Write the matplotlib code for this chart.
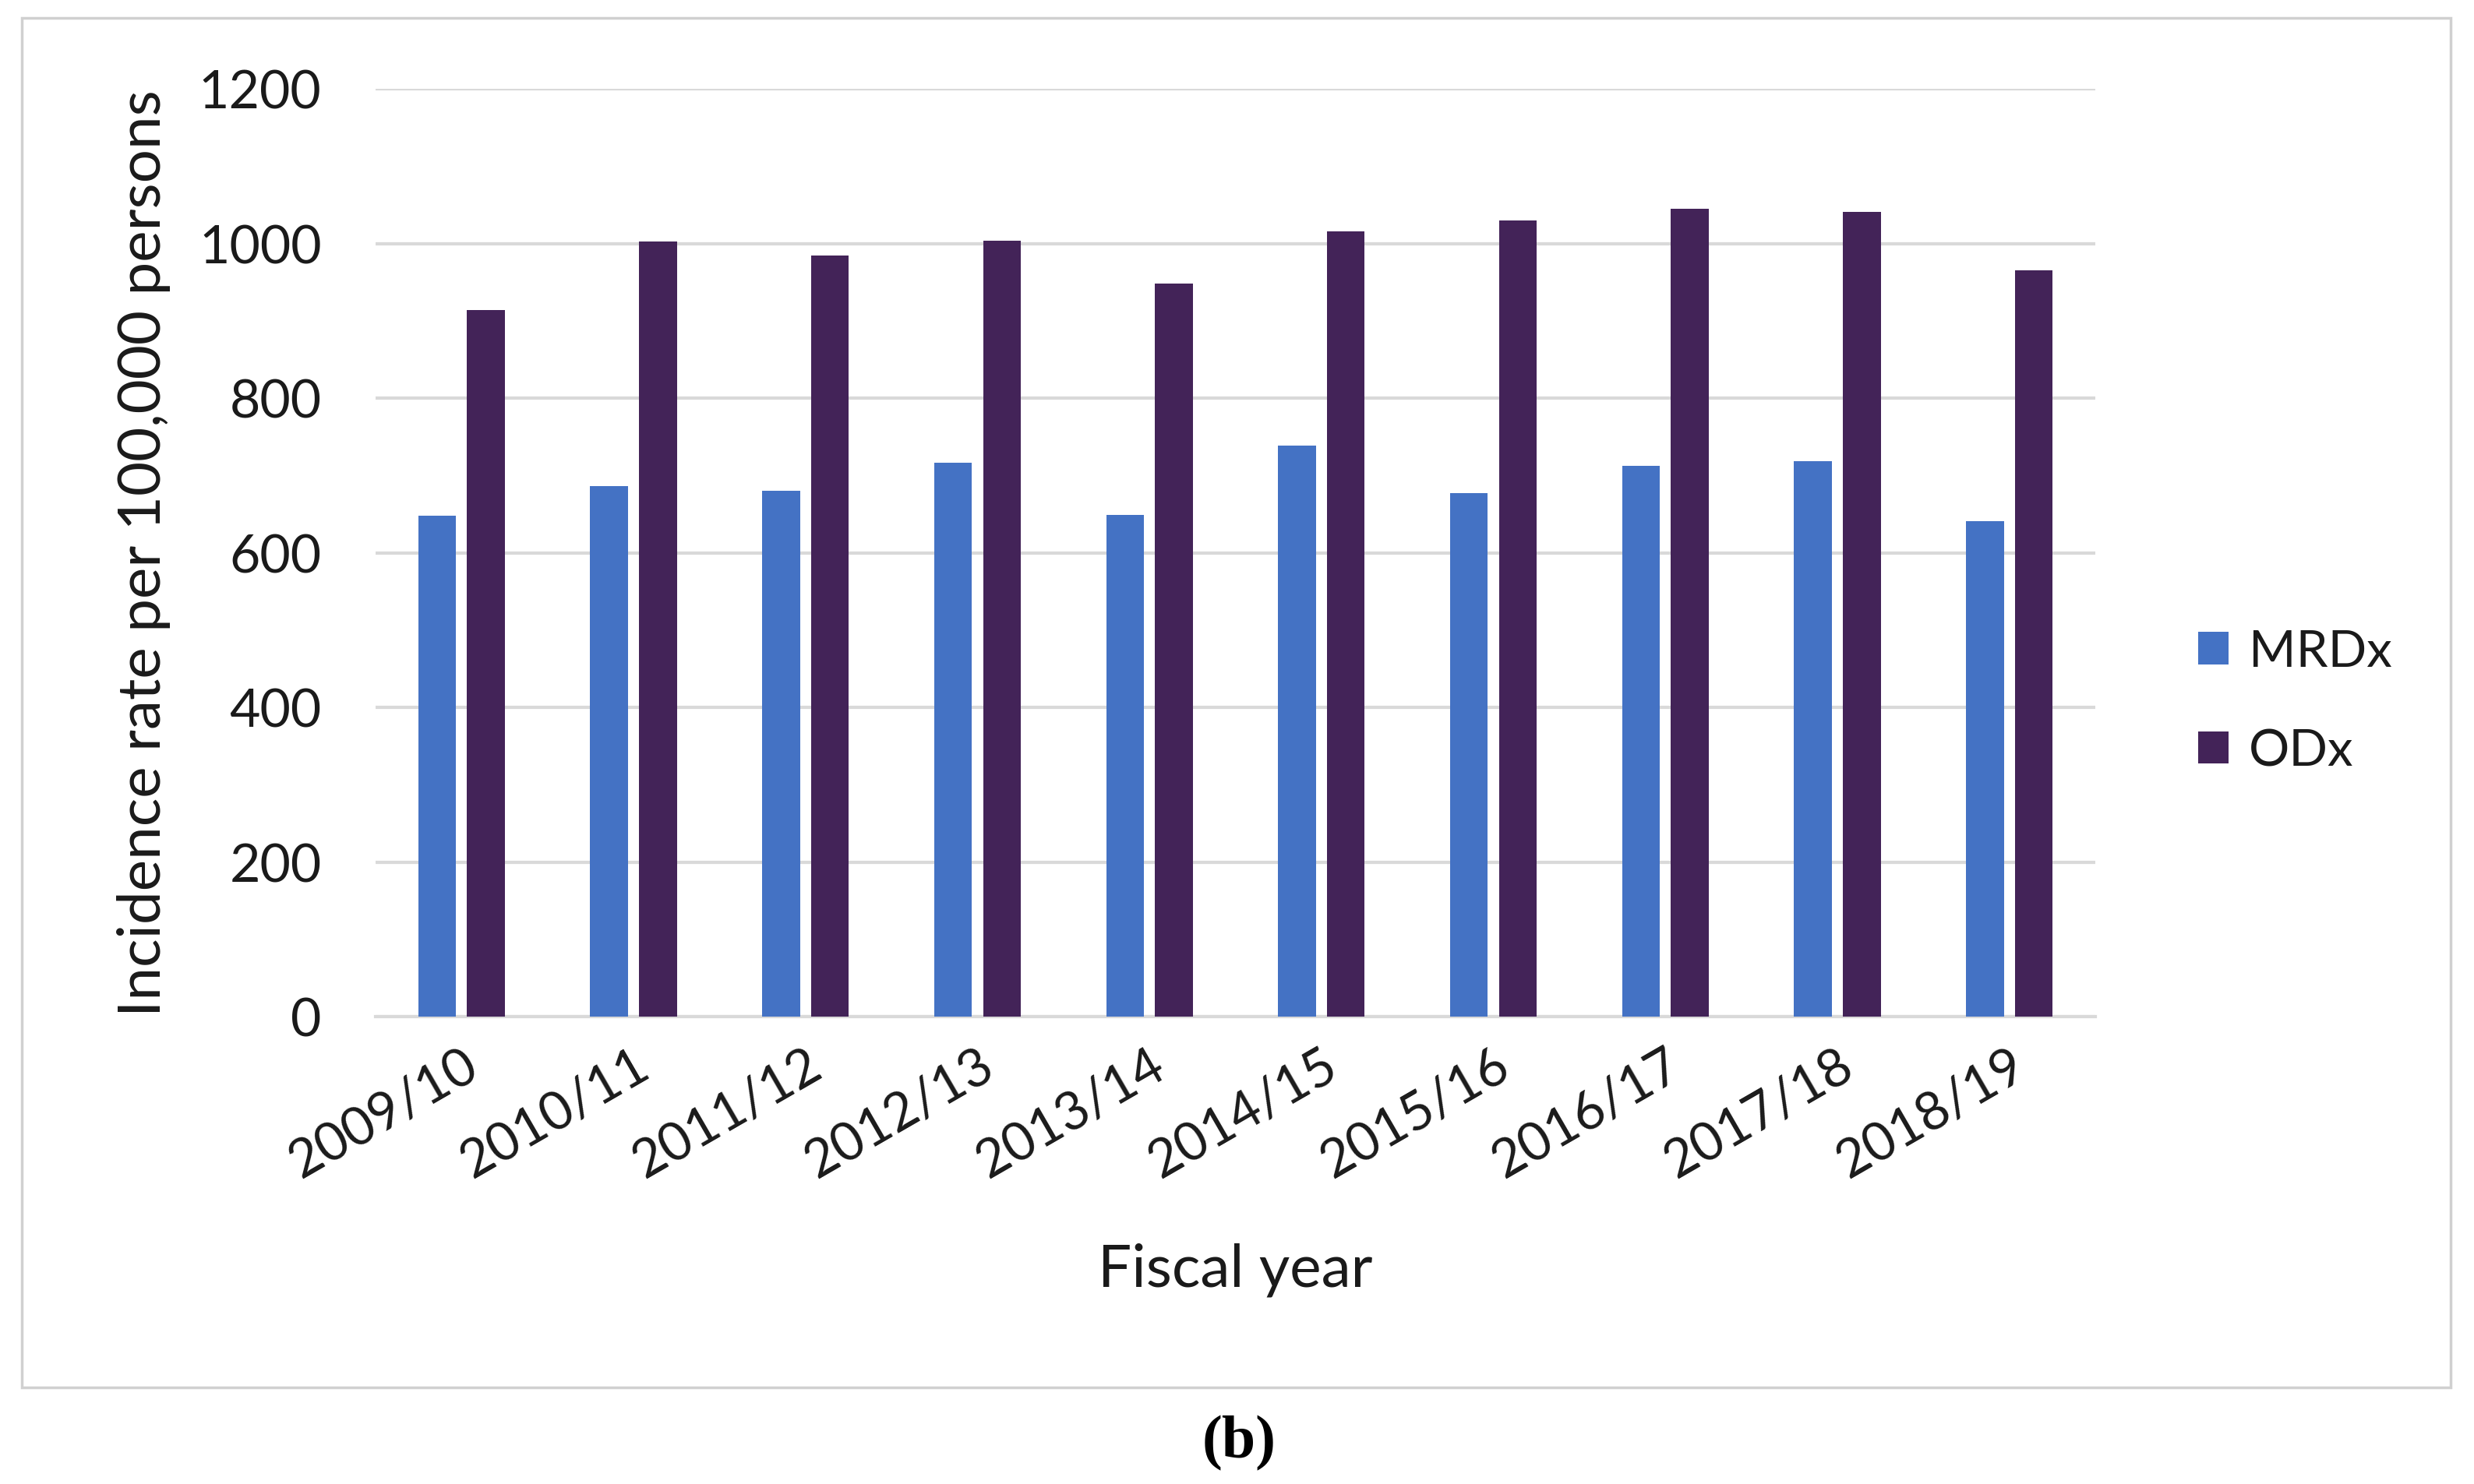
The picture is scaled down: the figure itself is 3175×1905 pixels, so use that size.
import matplotlib
matplotlib.use("Agg")
import matplotlib.pyplot as plt
import numpy as np
from matplotlib.patches import Rectangle

categories = ["2009/10", "2010/11", "2011/12", "2012/13", "2013/14",
              "2014/15", "2015/16", "2016/17", "2017/18", "2018/19"]
mrdx = [648, 686, 680, 716, 649, 739, 677, 712, 718, 641]
odx = [914, 1003, 984, 1004, 948, 1016, 1030, 1045, 1041, 965]
yticks = [0, 200, 400, 600, 800, 1000, 1200]

W, H = 3175, 1906
fig = plt.figure(figsize=(W / 100, H / 100), dpi=100)
plt.rcParams['font.family'] = ['Lato', 'DejaVu Sans']

# outer border
fig.patches.append(Rectangle((28 / W, 1 - 1782 / H), (3145 - 28) / W, (1782 - 24) / H,
                             transform=fig.transFigure, fill=False,
                             edgecolor="#d0d0d0", linewidth=2.5))

ax = fig.add_axes([482 / W, 1 - 1306 / H, (2689 - 482) / W, (1306 - 115) / H])
x = np.arange(len(categories))
bw = 0.22
ax.bar(x - 0.142, mrdx, bw, color="#4472C4", label="MRDx", zorder=3)
ax.bar(x + 0.142, odx, bw, color="#432358", label="ODx", zorder=3)

ax.set_xlim(-0.5, len(categories) - 0.5)
ax.set_ylim(0, 1200)
ax.set_yticks(yticks)
ax.yaxis.grid(True, color="#d9d9d9", linewidth=3, zorder=0)
ax.set_axisbelow(True)
for s in ["top", "right", "left"]:
    ax.spines[s].set_visible(False)
ax.spines["bottom"].set_color("#d9d9d9")
ax.spines["bottom"].set_linewidth(3)
ax.tick_params(axis="both", length=0, labelsize=49, colors="#1a1a1a")
ax.tick_params(axis="y", pad=50)
ax.set_xticks(x)
ax.set_xticklabels(categories, rotation=30, ha="right", rotation_mode="anchor")
ax.tick_params(axis="x", pad=22)
ax.set_ylabel("Incidence rate per 100,000 persons", fontsize=55, labelpad=26,
              color="#1a1a1a")
ax.set_xlabel("Fiscal year", fontsize=55, color="#1a1a1a")
ax.xaxis.set_label_coords(0.5, -0.243)

ax.legend(loc="center left", bbox_to_anchor=(1.033, 0.34), frameon=False,
          fontsize=47, handlelength=0.6, handleheight=0.6, labelspacing=1.05,
          handletextpad=0.4, labelcolor="#1a1a1a")

fig.text(1590 / W, 1 - 1853 / H, "(b)", ha="center", va="center",
         fontsize=56, fontweight="bold", family=["Liberation Serif"])

fig.savefig("out.png", dpi=100, facecolor="white")
